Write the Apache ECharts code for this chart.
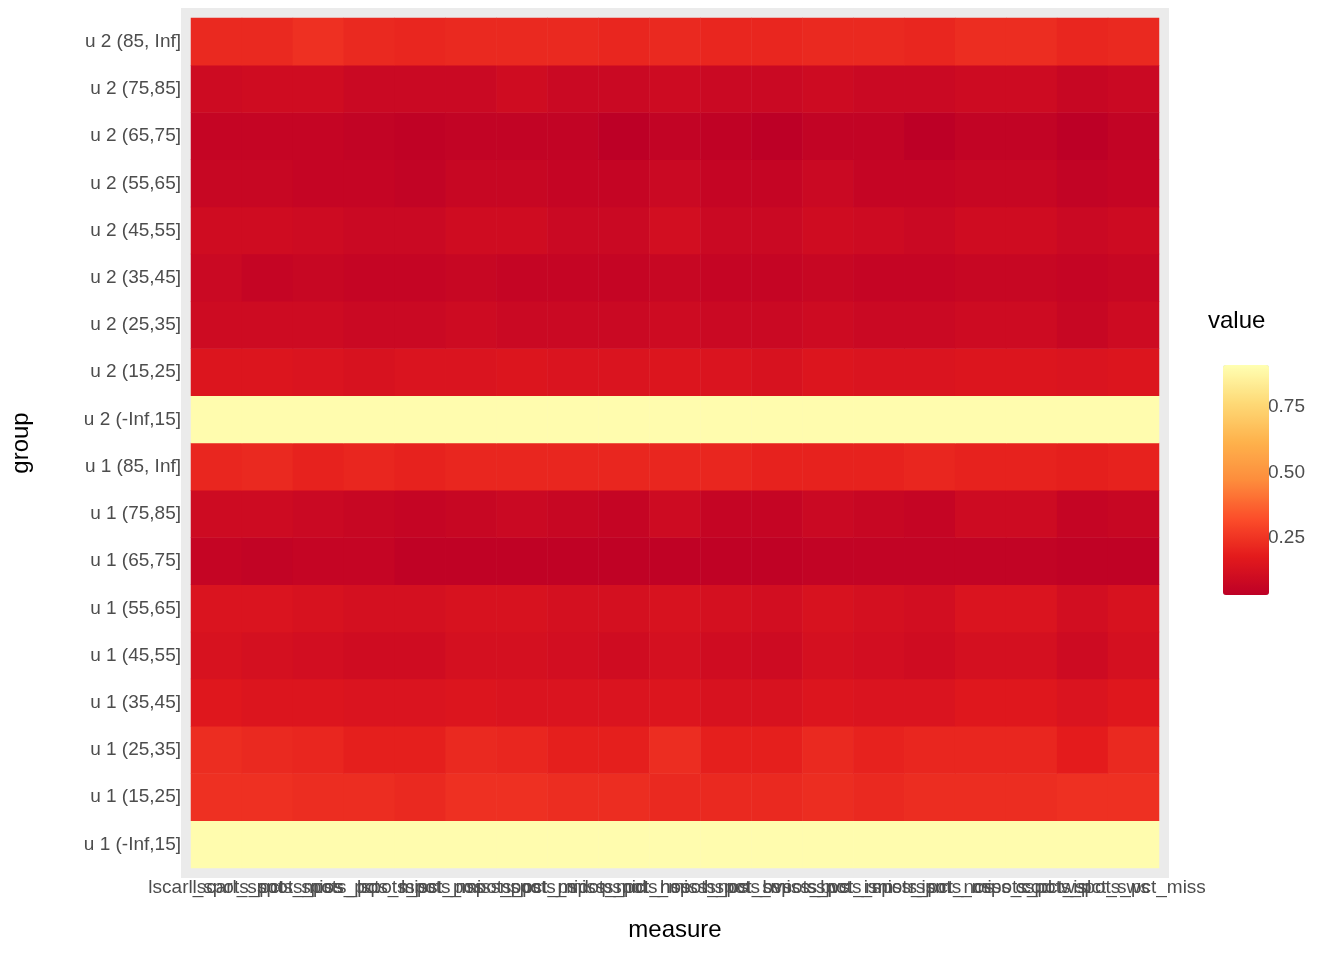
<!DOCTYPE html>
<html>
<head>
<meta charset="utf-8">
<script src="https://cdn.jsdelivr.net/npm/echarts@6/dist/echarts.min.js"></script>
<style>html,body{margin:0;padding:0;background:#fff}#chart{width:1344px;height:960px}</style>
</head>
<body>
<div id="chart"></div>
<script>
// measures (x axis)
var measures = ['lscarl_spots_pct', 'lscarl_spots_miss', 'spots_pos_pct', 'spots_pos_miss',
    'lspots_pct_pos', 'lspots_miss_pos', 'nspots_pct_mid', 'nspots_miss_mid', 'pspots_pct_nos',
    'pspots_miss_nos', 'hspots_pct_bvs', 'hspots_miss_bvs', 'sspots_pct_ism', 'sspots_miss_ism',
    'rspots_pct_nos', 'rspots_miss_cod', 'cspots_pct_isl', 'cspots_pct_sws', 'wspots_pct_miss'];
// groups (y axis, bottom to top)
var groups = ['u 1 (-Inf,15]', 'u 1 (15,25]', 'u 1 (25,35]', 'u 1 (35,45]', 'u 1 (45,55]',
    'u 1 (55,65]', 'u 1 (65,75]', 'u 1 (75,85]', 'u 1 (85, Inf]',
    'u 2 (-Inf,15]', 'u 2 (15,25]', 'u 2 (25,35]', 'u 2 (35,45]', 'u 2 (45,55]',
    'u 2 (55,65]', 'u 2 (65,75]', 'u 2 (75,85]', 'u 2 (85, Inf]'];
// values per group row, one per measure
var values = [
    [0.96,0.96,0.96,0.96,0.96,0.96,0.96,0.96,0.96,0.96,0.96,0.96,0.96,0.96,0.96,0.96,0.96,0.96,0.96],
    [0.30,0.30,0.29,0.29,0.28,0.30,0.30,0.29,0.29,0.28,0.28,0.28,0.29,0.28,0.29,0.29,0.29,0.30,0.30],
    [0.29,0.28,0.27,0.25,0.25,0.28,0.27,0.25,0.25,0.29,0.25,0.25,0.28,0.26,0.27,0.27,0.27,0.24,0.28],
    [0.22,0.21,0.21,0.20,0.20,0.21,0.20,0.20,0.20,0.21,0.19,0.19,0.21,0.20,0.20,0.22,0.22,0.20,0.22],
    [0.19,0.18,0.17,0.16,0.16,0.18,0.18,0.17,0.16,0.18,0.16,0.15,0.18,0.17,0.16,0.18,0.18,0.15,0.18],
    [0.20,0.20,0.19,0.18,0.18,0.19,0.19,0.18,0.18,0.19,0.18,0.17,0.19,0.18,0.17,0.20,0.20,0.17,0.19],
    [0.12,0.11,0.12,0.12,0.10,0.10,0.10,0.10,0.10,0.10,0.10,0.10,0.11,0.11,0.11,0.11,0.11,0.10,0.10],
    [0.15,0.15,0.14,0.13,0.12,0.13,0.14,0.13,0.12,0.15,0.12,0.12,0.14,0.13,0.12,0.15,0.15,0.12,0.13],
    [0.27,0.28,0.26,0.27,0.26,0.27,0.27,0.27,0.27,0.27,0.27,0.26,0.26,0.26,0.27,0.26,0.26,0.25,0.26],
    [0.96,0.96,0.96,0.96,0.96,0.96,0.96,0.96,0.96,0.96,0.96,0.96,0.96,0.96,0.96,0.96,0.96,0.96,0.96],
    [0.21,0.21,0.20,0.19,0.20,0.20,0.21,0.20,0.20,0.21,0.20,0.19,0.21,0.20,0.20,0.21,0.21,0.20,0.21],
    [0.15,0.15,0.15,0.14,0.14,0.15,0.14,0.14,0.14,0.15,0.14,0.14,0.15,0.14,0.14,0.15,0.15,0.13,0.15],
    [0.14,0.12,0.13,0.12,0.12,0.13,0.12,0.12,0.12,0.13,0.12,0.12,0.13,0.12,0.12,0.13,0.13,0.12,0.13],
    [0.16,0.16,0.15,0.14,0.14,0.16,0.16,0.14,0.14,0.17,0.14,0.14,0.16,0.15,0.14,0.16,0.16,0.14,0.15],
    [0.13,0.13,0.12,0.12,0.11,0.13,0.13,0.12,0.12,0.14,0.12,0.12,0.14,0.12,0.12,0.13,0.13,0.11,0.12],
    [0.12,0.12,0.12,0.11,0.10,0.11,0.11,0.11,0.09,0.11,0.10,0.09,0.11,0.11,0.09,0.11,0.11,0.09,0.11],
    [0.15,0.16,0.16,0.14,0.14,0.14,0.16,0.14,0.14,0.15,0.14,0.14,0.15,0.14,0.14,0.15,0.15,0.13,0.14],
    [0.28,0.28,0.30,0.28,0.27,0.28,0.28,0.28,0.27,0.28,0.27,0.27,0.28,0.28,0.27,0.29,0.29,0.27,0.28]
];
var legendTicks = [0.25, 0.50, 0.75];
var vMin = 0.09, vMax = 0.97;

var data = [];
values.forEach(function (row, j) {
    row.forEach(function (v, i) { data.push([i, j, v]); });
});

var chart = echarts.init(document.getElementById('chart'));
var barTop = 350, barH = 230;
var tickGraphics = [];
legendTicks.forEach(function (t) {
    var y = barTop + barH * (vMax - t) / (vMax - vMin);
    tickGraphics.push({ type: 'text', left: 1268, top: y - 10,
        style: { text: t.toFixed(2), fill: '#4d4d4d', font: '19px Liberation Sans, Arial' } });
    tickGraphics.push({ type: 'line', shape: { x1: 1208, y1: y, x2: 1216, y2: y }, style: { stroke: '#fff', lineWidth: 1 } });
    tickGraphics.push({ type: 'line', shape: { x1: 1246, y1: y, x2: 1254, y2: y }, style: { stroke: '#fff', lineWidth: 1 } });
});
tickGraphics.push({ type: 'text', left: 1208, top: 309,
    style: { text: 'value', fill: '#000', font: '24px Liberation Sans, Arial' } });
tickGraphics.push({ type: 'rect', shape: { x: 181, y: 8, width: 988, height: 870 }, style: { fill: '#ebebeb' }, z: -10 });

chart.setOption({
    animation: false,
    textStyle: { fontFamily: 'Liberation Sans, Arial' },
    grid: { left: 191, right: 185, top: 18, bottom: 92, show: false },
    xAxis: {
        type: 'category', data: measures, name: 'measure', nameLocation: 'middle', nameGap: 50,
        nameTextStyle: { fontSize: 24, color: '#000' },
        axisLine: { show: false }, splitLine: { show: false },
        axisTick: { alignWithLabel: true, length: 6, lineStyle: { color: '#333', width: 2 } },
        axisLabel: { fontSize: 19, color: '#4d4d4d', interval: 0, margin: 10 }
    },
    yAxis: {
        type: 'category', data: groups, name: 'group', nameLocation: 'middle', nameGap: 158,
        nameTextStyle: { fontSize: 24, color: '#000' },
        axisLine: { show: false }, splitLine: { show: false },
        axisTick: { alignWithLabel: true, length: 6, lineStyle: { color: '#333', width: 2 } },
        axisLabel: { fontSize: 19, color: '#4d4d4d', margin: 10 }
    },
    visualMap: {
        type: 'continuous', min: vMin, max: vMax, calculable: false, show: true,
        left: 1208, top: barTop, itemWidth: 46, itemHeight: barH, text: ['', ''],
        showLabel: false, realtime: false, hoverLink: false,
        inRange: { color: ['#bd0026', '#e31a1c', '#fc4e2a', '#fd8d3c', '#feb24c', '#fed976', '#ffffb2'] }
    },
    graphic: tickGraphics,
    series: [{ type: 'heatmap', data: data, itemStyle: { borderWidth: 0 } }]
});
</script>
</body>
</html>
